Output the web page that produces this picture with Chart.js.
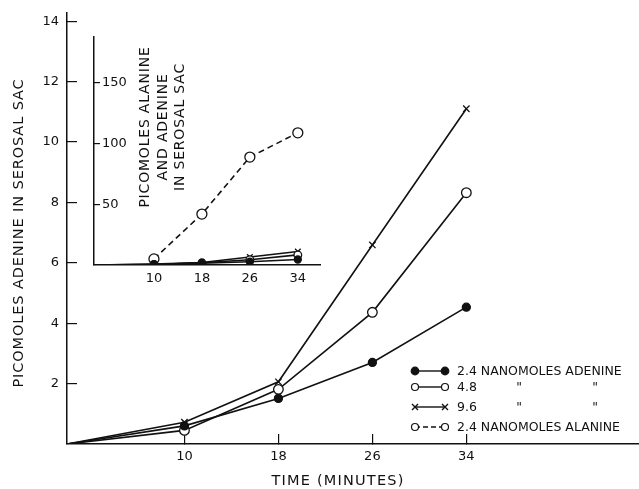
<!DOCTYPE html>
<html lang="en">
<head>
<meta charset="utf-8" />
<title>Picomoles adenine in serosal sac</title>
<script src="https://cdn.jsdelivr.net/npm/chart.js@4.4.1/dist/chart.umd.min.js"></script>
<style>
  html,body{margin:0;padding:0;background:#fff;}
  .wrap{position:relative;width:639px;height:489px;}
  #main{position:absolute;left:0;top:0;}
  #inset{position:absolute;left:40px;top:20px;}
</style>
</head>
<body>
<div class="wrap">
  <canvas id="main" width="639" height="489"></canvas>
  <canvas id="inset" width="300" height="280"></canvas>
</div>
<script>
// time points (minutes)
const times = [0, 10, 18, 26, 34];
const alanineTimes = [10, 18, 26, 34];

// picomoles adenine in serosal sac
const adenine24 = [0, 0.6, 1.51, 2.7, 4.53];
const adenine48 = [0, 0.45, 1.81, 4.36, 8.32];
const adenine96 = [0, 0.72, 2.06, 6.59, 11.1];
// picomoles alanine (inset)
const alanine24 = [5, 42, 89, 109];

const xTicks = [10, 18, 26, 34];
const yTicks = [2, 4, 6, 8, 10, 12, 14];
const insetYTicks = [50, 100, 150];

const legendLabels = ['2.4 NANOMOLES ADENINE', '4.8', '9.6', '2.4 NANOMOLES ALANINE'];
const yTitle = 'PICOMOLES ADENINE IN SEROSAL SAC';
const xTitle = 'TIME (MINUTES)';
const insetTitle = ['PICOMOLES ALANINE', 'AND ADENINE', 'IN SEROSAL SAC'];

const FONT = '"DejaVu Sans", "Liberation Sans", sans-serif';
const INK = '#111';

const pts = (xs, ys) => xs.map((x, i) => ({ x, y: ys[i] }));
const radii = (n, r) => [0].concat(Array(n - 1).fill(r));

function series(ys, kind, r, xs) {
  xs = xs || times;
  const base = {
    data: pts(xs, ys), borderColor: INK, borderWidth: 1.6, tension: 0,
    pointBorderColor: INK, pointBorderWidth: 1.3, pointHoverRadius: 0,
    pointRadius: xs === times ? radii(xs.length, r) : r,
  };
  if (kind === 'filled') return Object.assign(base, { pointStyle: 'circle', pointBackgroundColor: INK });
  if (kind === 'open') return Object.assign(base, { pointStyle: 'circle', pointBackgroundColor: '#fff' });
  return Object.assign(base, { pointStyle: 'crossRot', pointBackgroundColor: INK });
}

// fixed axis size, no extra label overhang padding
const fitTo = (prop, size) => s => {
  s[prop] = size;
  s.paddingTop = s.paddingBottom = s.paddingLeft = s.paddingRight = 0;
};

function axis(opts) {
  return Object.assign({
    type: 'linear',
    border: { display: true, color: INK, width: 1.5 },
    grid: { drawOnChartArea: false, drawTicks: true, color: INK, lineWidth: 1.2 },
    ticks: { color: INK, font: { family: FONT, size: 13 } },
  }, opts);
}

// ---- main chart extras: axis titles + legend ----
const mainText = {
  id: 'mainText',
  afterDraw(chart) {
    const ctx = chart.ctx;
    ctx.save();
    ctx.fillStyle = INK;
    ctx.strokeStyle = INK;
    ctx.font = '14.5px ' + FONT;
    ctx.textAlign = 'center';
    ctx.textBaseline = 'middle';
    ctx.letterSpacing = '0.9px';
    ctx.save();
    ctx.translate(19, 233);
    ctx.rotate(-Math.PI / 2);
    ctx.fillText(yTitle, 0, 0);
    ctx.restore();
    ctx.letterSpacing = '1.2px';
    ctx.fillText(xTitle, 338, 481);

    // legend
    ctx.letterSpacing = '0px';
    ctx.font = '12.5px ' + FONT;
    ctx.textAlign = 'left';
    const rows = [371, 387, 407, 427];
    const x1 = 415, x2 = 445, tx = 457;
    rows.forEach((y, i) => {
      ctx.lineWidth = 1.4;
      ctx.setLineDash(i === 3 ? [5, 3] : []);
      ctx.beginPath(); ctx.moveTo(x1, y); ctx.lineTo(x2, y); ctx.stroke();
      ctx.setLineDash([]);
      [x1, x2].forEach(mx => {
        ctx.beginPath();
        if (i === 2) {
          ctx.moveTo(mx - 3, y - 3); ctx.lineTo(mx + 3, y + 3);
          ctx.moveTo(mx + 3, y - 3); ctx.lineTo(mx - 3, y + 3);
          ctx.stroke();
        } else {
          ctx.arc(mx, y, i === 0 ? 3.8 : 3.5, 0, Math.PI * 2);
          ctx.fillStyle = i === 0 ? INK : '#fff';
          ctx.fill(); ctx.lineWidth = 1.2; ctx.stroke();
        }
      });
      ctx.fillStyle = INK;
      ctx.fillText(legendLabels[i], tx, y + 1);
      if (i === 1 || i === 2) {
        ctx.textAlign = 'center';
        ctx.fillText('"', 519, y + 1);
        ctx.fillText('"', 595, y + 1);
        ctx.textAlign = 'left';
      }
    });
    ctx.restore();
  }
};

new Chart(document.getElementById('main'), {
  type: 'line',
  data: {
    datasets: [
      series(adenine24, 'filled', 4),
      series(adenine48, 'open', 4.8),
      series(adenine96, 'cross', 4.5),
    ]
  },
  options: {
    responsive: false, animation: false, devicePixelRatio: 1,
    layout: { autoPadding: false, padding: { top: 13, left: 0, right: 0, bottom: 0 } },
    plugins: { legend: { display: false }, tooltip: { enabled: false } },
    scales: {
      x: axis({
        min: 0, max: 48.7,
        afterBuildTicks: s => { s.ticks = xTicks.map(v => ({ value: v })); },
        afterFit: fitTo('height', 45),
        grid: { drawOnChartArea: false, color: INK, lineWidth: 1.2, tickLength: -10 },
        ticks: { color: INK, padding: 15, maxRotation: 0, font: { family: FONT, size: 13 } },
      }),
      y: axis({
        min: 0, max: 14.27,
        afterBuildTicks: s => { s.ticks = yTicks.map(v => ({ value: v })); },
        afterFit: fitTo('width', 67),
        grid: { drawOnChartArea: false, color: INK, lineWidth: 1.2, tickLength: -10 },
        ticks: { color: INK, padding: 18, font: { family: FONT, size: 13 } },
      }),
    }
  },
  plugins: [mainText]
});

// ---- inset ----
const insetText = {
  id: 'insetText',
  afterDraw(chart) {
    const ctx = chart.ctx;
    ctx.save();
    ctx.fillStyle = INK;
    ctx.font = '14px ' + FONT;
    ctx.letterSpacing = '0.8px';
    ctx.textAlign = 'center';
    ctx.textBaseline = 'middle';
    [105, 123, 140].forEach((x, i) => {
      ctx.save();
      ctx.translate(x, 107);
      ctx.rotate(-Math.PI / 2);
      ctx.fillText(insetTitle[i], 0, 0);
      ctx.restore();
    });
    ctx.restore();
  }
};

const alanineSet = series(alanine24, 'open', 5, alanineTimes);
alanineSet.borderDash = [6, 4];

new Chart(document.getElementById('inset'), {
  type: 'line',
  data: {
    datasets: [
      series(adenine24, 'filled', 3.5),
      series(adenine48, 'open', 3.8),
      series(adenine96, 'cross', 4),
      alanineSet,
    ]
  },
  options: {
    responsive: false, animation: false, devicePixelRatio: 1,
    layout: { autoPadding: false, padding: { top: 17, left: 0, right: 20, bottom: 0 } },
    plugins: { legend: { display: false }, tooltip: { enabled: false } },
    scales: {
      x: axis({
        min: 0, max: 37.7,
        afterBuildTicks: s => { s.ticks = xTicks.map(v => ({ value: v })); },
        afterFit: fitTo('height', 35),
        grid: { drawOnChartArea: false, drawTicks: false },
        ticks: { color: INK, padding: 6, maxRotation: 0, font: { family: FONT, size: 13 } },
      }),
      y: axis({
        min: 0, max: 188,
        afterBuildTicks: s => { s.ticks = insetYTicks.map(v => ({ value: v })); },
        afterFit: fitTo('width', 54),
        grid: { drawOnChartArea: false, color: INK, lineWidth: 1.2, tickLength: -6 },
        ticks: { color: INK, mirror: true, padding: 8, font: { family: FONT, size: 13 } },
      }),
    }
  },
  plugins: [insetText]
});
</script>
</body>
</html>
